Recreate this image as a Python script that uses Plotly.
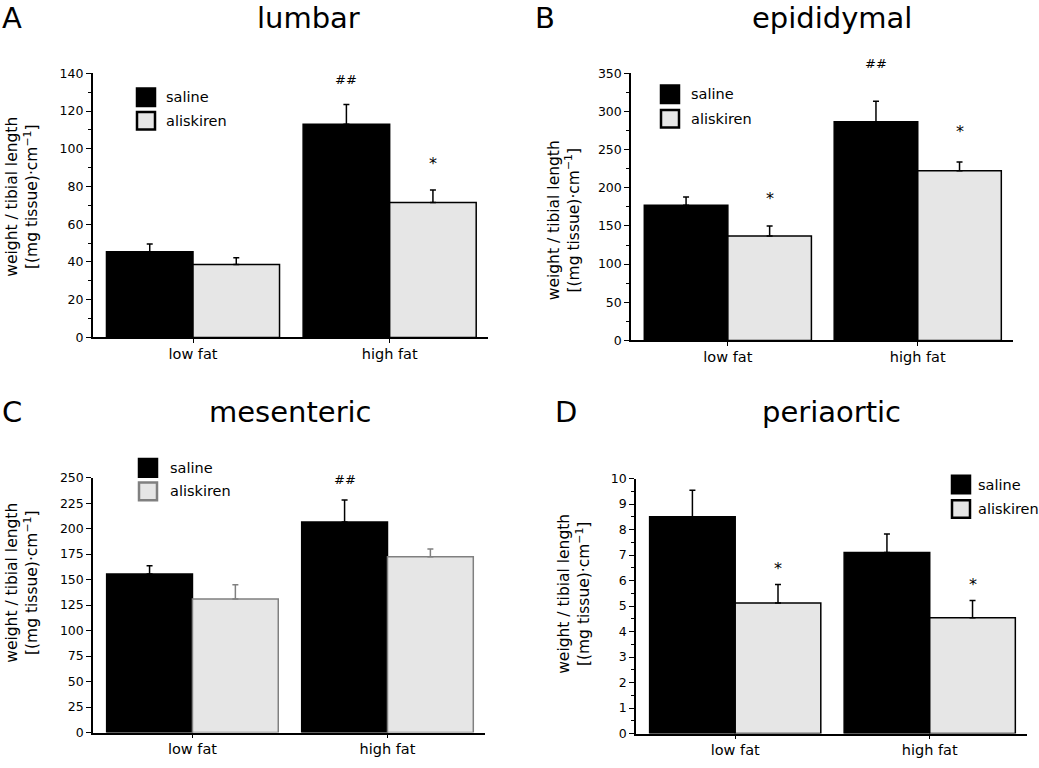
import plotly.graph_objects as go

W, H = 1039, 768
FONT = "DejaVu Sans"

categories = ["low fat", "high fat"]
series_names = ["saline", "aliskiren"]

# Panel A - lumbar
lumbar_saline = [45.5, 113.0]
lumbar_saline_sem = [4.1, 10.5]
lumbar_aliskiren = [38.7, 71.5]
lumbar_aliskiren_sem = [3.6, 6.7]

# Panel B - epididymal
epi_saline = [177.0, 286.5]
epi_saline_sem = [11.0, 27.0]
epi_aliskiren = [137.0, 222.5]
epi_aliskiren_sem = [13.0, 11.5]

# Panel C - mesenteric
mes_saline = [155.5, 206.5]
mes_saline_sem = [8.0, 21.5]
mes_aliskiren = [131.0, 172.5]
mes_aliskiren_sem = [14.0, 7.5]

# Panel D - periaortic
peri_saline = [8.5, 7.1]
peri_saline_sem = [1.04, 0.73]
peri_aliskiren = [5.12, 4.54]
peri_aliskiren_sem = [0.73, 0.68]

# significance marks: (text, category position, y value)
lumbar_marks = [("##", 0.78, 136.9), ("*", 1.22, 94.2)]
epi_marks = [("##", 0.78, 362.5), ("*", 0.22, 191.5), ("*", 1.22, 278.9)]
mes_marks = [("##", 0.78, 248.0)]
peri_marks = [("*", 0.22, 6.62), ("*", 1.22, 6.0)]

XRANGE = [-0.51, 1.5]


def fx(p):
    return p / W


def fy(p):
    return 1 - p / H


panels = [
    dict(letter="A", title="lumbar", sal=lumbar_saline, sal_e=lumbar_saline_sem,
         ali=lumbar_aliskiren, ali_e=lumbar_aliskiren_sem, marks=lumbar_marks,
         xpx=(92.7, 488), ypx=(66.7, 336), yr=140, dt=20, mdt=10, ali_line="#000000",
         title_px=(308, 10), letter_px=(0, 10), ytitle_px=(22.5, 193),
         leg=(137, 82, 106, 18, 164)),
    dict(letter="B", title="epididymal", sal=epi_saline, sal_e=epi_saline_sem,
         ali=epi_aliskiren, ali_e=epi_aliskiren_sem, marks=epi_marks,
         xpx=(631, 1012.7), ypx=(66.7, 339), yr=350, dt=50, mdt=25, ali_line="#000000",
         title_px=(831.7, 10), letter_px=(533, 10), ytitle_px=(564, 216.5),
         leg=(661, 79, 104, 18, 689)),
    dict(letter="C", title="mesenteric", sal=mes_saline, sal_e=mes_saline_sem,
         ali=mes_aliskiren, ali_e=mes_aliskiren_sem, marks=mes_marks,
         xpx=(93, 485), ypx=(479, 739), yr=250, dt=25, mdt=None, ali_line="#808080",
         title_px=(290, 412), letter_px=(0, 412), ytitle_px=(22.5, 586.7),
         leg=(139, 460, 484, 18, 168)),
    dict(letter="D", title="periaortic", sal=peri_saline, sal_e=peri_saline_sem,
         ali=peri_aliskiren, ali_e=peri_aliskiren_sem, marks=peri_marks,
         xpx=(636, 1027), ypx=(480, 740), yr=10, dt=1, mdt=0.5, ali_line="#000000",
         title_px=(831.7, 412), letter_px=(553, 412), ytitle_px=(574, 597.5),
         leg=(952, 477, 502, 18, 976)),
]

fig = go.Figure()
annotations = []
shapes = []
layout_axes = {}

for i, p in enumerate(panels):
    n = "" if i == 0 else str(i + 1)
    xa, ya = "x" + n, "y" + n
    fig.add_trace(go.Bar(
        x=categories, y=p["sal"], name=series_names[0], xaxis=xa, yaxis=ya,
        marker=dict(color="#000000", line=dict(color="#000000", width=1.5)),
        error_y=dict(type="data", symmetric=False, array=p["sal_e"], arrayminus=[0, 0],
                     color="#000000", thickness=1.5, width=3),
        showlegend=False, hoverinfo="skip"))
    fig.add_trace(go.Bar(
        x=categories, y=p["ali"], name=series_names[1], xaxis=xa, yaxis=ya,
        marker=dict(color="#e6e6e6", line=dict(color=p["ali_line"], width=1.5)),
        error_y=dict(type="data", symmetric=False, array=p["ali_e"], arrayminus=[0, 0],
                     color=p["ali_line"], thickness=1.5, width=3),
        showlegend=False, hoverinfo="skip"))

    x0, x1 = p["xpx"]
    y0, y1 = p["ypx"]
    yaxis = dict(
        domain=[fy(y1), fy(y0)], anchor=xa, range=[0, p["yr"]], dtick=p["dt"], tick0=0,
        showline=True, linecolor="#000000", linewidth=1.5, ticks="outside", ticklen=5,
        tickwidth=1.2, tickcolor="#000000", showgrid=False, zeroline=False,
        tickfont=dict(family=FONT, size=12.5, color="#000000"), fixedrange=True,
    )
    if p["mdt"]:
        yaxis["minor"] = dict(dtick=p["mdt"], tick0=0, ticks="outside", ticklen=3,
                              tickwidth=1, tickcolor="#000000", showgrid=False)
    xaxis = dict(
        domain=[fx(x0), fx(x1)], anchor=ya, range=XRANGE, type="category",
        showline=True, linecolor="#000000", linewidth=1.5, ticks="outside", ticklen=4,
        tickwidth=1.2, tickcolor="#000000", showgrid=False, zeroline=False,
        tickfont=dict(family=FONT, size=14.5, color="#000000"), ticklabelstandoff=-2,
        fixedrange=True,
    )
    layout_axes["xaxis" + n] = xaxis
    layout_axes["yaxis" + n] = yaxis

    # titles
    annotations.append(dict(text=p["title"], x=fx(p["title_px"][0]), y=fy(p["title_px"][1]),
                            xref="paper", yref="paper", xanchor="center", yanchor="middle",
                            showarrow=False, font=dict(family=FONT, size=29, color="#000000")))
    annotations.append(dict(text=p["letter"], x=fx(p["letter_px"][0]), y=fy(p["letter_px"][1]),
                            xref="paper", yref="paper", xanchor="left", yanchor="middle",
                            showarrow=False, font=dict(family=FONT, size=29, color="#000000")))
    annotations.append(dict(text="weight / tibial length<br>[(mg tissue)·cm<sup>−1</sup>]",
                            x=fx(p["ytitle_px"][0]), y=fy(p["ytitle_px"][1]),
                            xref="paper", yref="paper", xanchor="center", yanchor="middle",
                            textangle=-90, showarrow=False,
                            font=dict(family=FONT, size=15.5, color="#000000")))
    # significance marks (placed via the axis' linear value-to-domain mapping)
    for txt, xv, yv in p["marks"]:
        xd = (xv - XRANGE[0]) / (XRANGE[1] - XRANGE[0])
        yd = yv / p["yr"]
        annotations.append(dict(text=txt, x=xd, y=yd, xref=xa + " domain", yref=ya + " domain",
                                xanchor="center", yanchor="middle", showarrow=False,
                                yshift=-4 if txt == "*" else 0,
                                font=dict(family=FONT, size=16 if txt == "*" else 13,
                                          color="#000000")))
    # legend
    lx, ly1, ly2, s, tx = p["leg"]
    for (ly, fill, line, name) in [(ly1, "#000000", "#000000", series_names[0]),
                                   (ly2, "#e6e6e6", p["ali_line"], series_names[1])]:
        shapes.append(dict(type="rect", xref="paper", yref="paper",
                           x0=fx(lx), x1=fx(lx + s), y0=fy(ly + s), y1=fy(ly),
                           fillcolor=fill, line=dict(color=line, width=2.5)))
        annotations.append(dict(text=name, x=fx(tx), y=fy(ly + s / 2), xref="paper", yref="paper",
                                xanchor="left", yanchor="middle", showarrow=False,
                                font=dict(family=FONT, size=14.5, color="#000000")))

fig.update_layout(
    width=W, height=H, margin=dict(l=0, r=0, t=0, b=0),
    paper_bgcolor="#ffffff", plot_bgcolor="#ffffff",
    barmode="group", bargap=0.12, bargroupgap=0,
    font=dict(family=FONT, color="#000000"),
    annotations=annotations, shapes=shapes, showlegend=False,
    **layout_axes,
)

fig.write_html("out.html", config={"displayModeBar": False},
               post_script="document.body.style.margin='0px';")
